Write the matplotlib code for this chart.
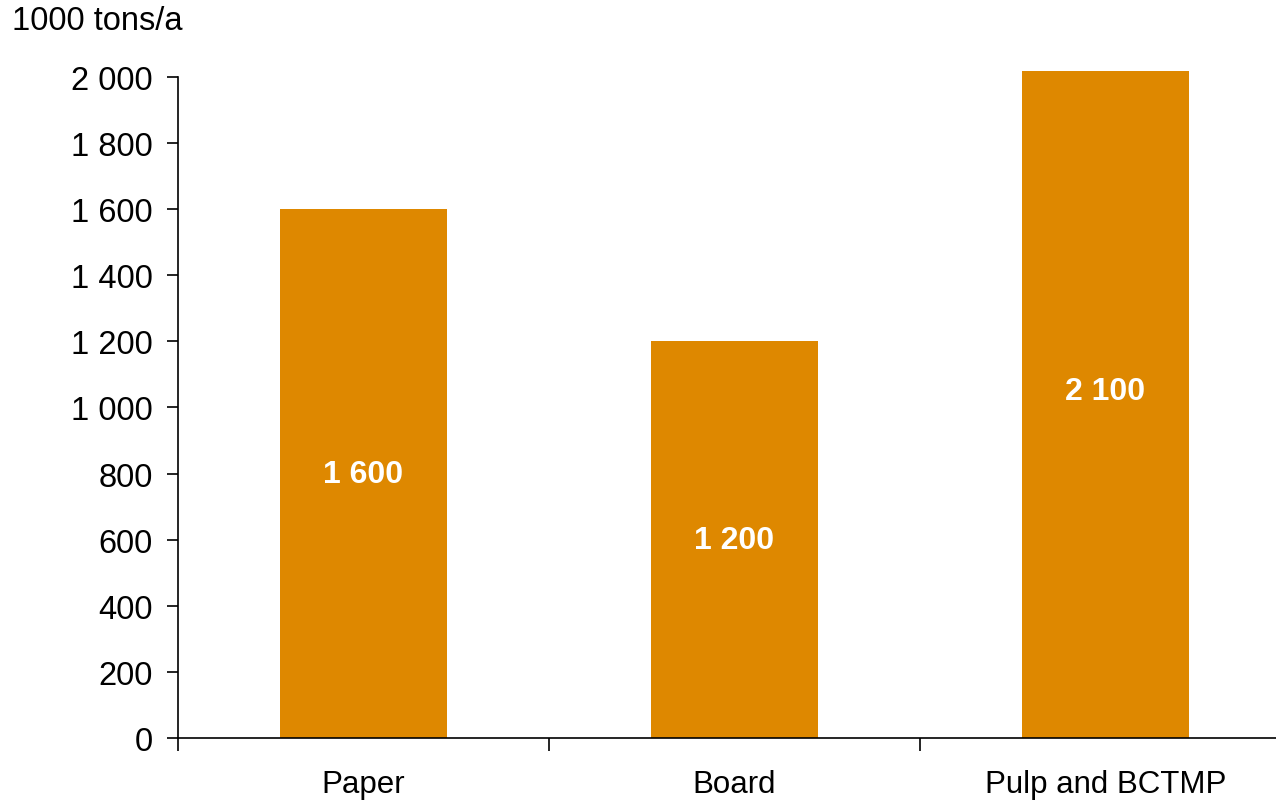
import matplotlib.pyplot as plt
from matplotlib.ticker import FuncFormatter

plt.rcParams["font.family"] = ["Liberation Sans", "DejaVu Sans"]

# data
categories = ["Paper", "Board", "Pulp and BCTMP"]
capacity = [1600, 1200, 2100]
y_ticks = [0, 200, 400, 600, 800, 1000, 1200, 1400, 1600, 1800, 2000]


def thousands(v, pos=None):
    return f"{int(v):,}".replace(",", " ")


fig = plt.figure(figsize=(12.76, 8.03), dpi=100)
W, H = 1276, 803
# axes run past the right edge, as in the original
ax = fig.add_axes([178 / W, (H - 739) / H, (1291 - 178) / W, (739 - 72) / H])

x = range(len(categories))
bars = ax.bar(x, capacity, width=0.45, color="#DE8800", zorder=2)

for xi, val in zip(x, capacity):
    ax.text(xi, val / 2, thousands(val), ha="center", va="center",
            color="white", fontsize=23, fontweight="bold")

ax.set_xlim(-0.5, 2.5)
ax.set_ylim(0, 2018)
ax.set_yticks(y_ticks)
ax.yaxis.set_major_formatter(FuncFormatter(thousands))
ax.spines["left"].set_bounds(0, 2000)
ax.spines["top"].set_visible(False)
ax.spines["right"].set_visible(False)

# category boundaries get the ticks, names sit in between
ax.set_xticks([-0.5, 0.5, 1.5, 2.5])
ax.set_xticklabels([])
ax.set_xticks(list(x), minor=True)
ax.set_xticklabels(categories, minor=True)
ax.tick_params(axis="x", which="major", direction="out", length=9, width=1.2)
ax.tick_params(axis="x", which="minor", length=0, pad=22, labelsize=22.5)
ax.tick_params(axis="y", direction="out", length=8, width=1.2, pad=10, labelsize=23.5)
for s in ("left", "bottom"):
    ax.spines[s].set_linewidth(1.2)

fig.text(12 / W, 1 - 22 / H, "1000 tons/a", ha="left", va="center", fontsize=23.5)

fig.savefig("out.png", dpi=100)
